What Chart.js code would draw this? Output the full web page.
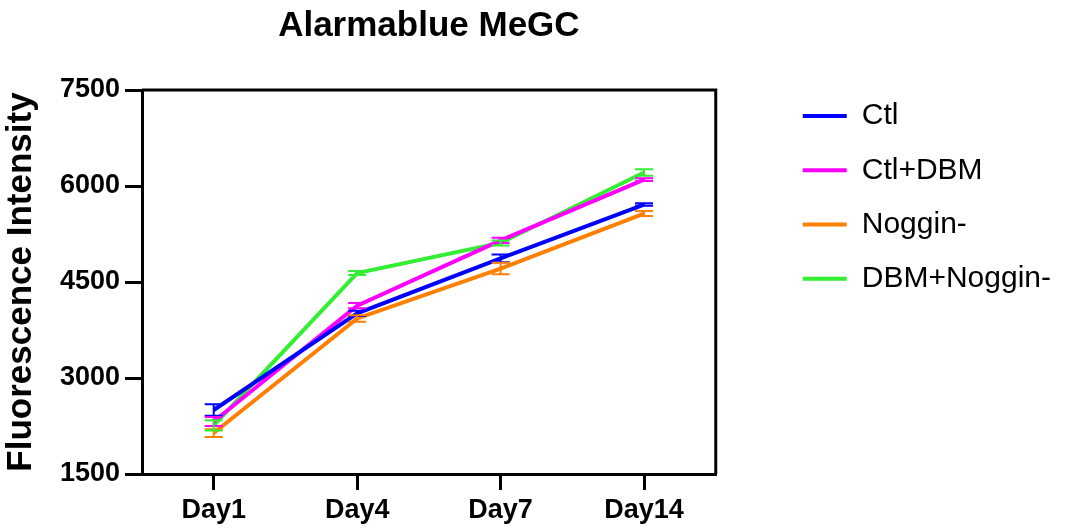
<!DOCTYPE html>
<html>
<head>
<meta charset="utf-8">
<script src="https://cdn.jsdelivr.net/npm/chart.js@4"></script>
<style>
  html, body { margin: 0; padding: 0; background: #fff; }
  #wrap { width: 1071px; height: 529px; }
</style>
</head>
<body>
<div id="wrap"><canvas id="chart1"></canvas></div>
<script>
const days = ['Day1', 'Day4', 'Day7', 'Day14'];
const seriesNames = ['Ctl', 'Ctl+DBM', 'Noggin-', 'DBM+Noggin-'];
const seriesColors = ['#0000ff', '#ff00ff', '#ff8000', '#33ee33'];

// mean values
const ctl = [2500, 4010, 4870, 5710];
const ctlDbm = [2320, 4130, 5150, 6100];
const noggin = [2140, 3930, 4710, 5570];
const dbmNoggin = [2260, 4640, 5110, 6210];

// error bar half heights
const ctlErr = [90, 40, 60, 20];
const ctlDbmErr = [70, 40, 40, 20];
const nogginErr = [60, 50, 90, 40];
const dbmNogginErr = [80, 30, 40, 50];

const yTicks = [1500, 3000, 4500, 6000, 7500];

const allValues = [ctl, ctlDbm, noggin, dbmNoggin];
const allErrors = [ctlErr, ctlDbmErr, nogginErr, dbmNogginErr];

const FONT = 'Arial, "Liberation Sans", Helvetica, sans-serif';

// error bars, drawn from the y scale
const errorBars = {
  id: 'errorBars',
  afterDatasetsDraw(chart) {
    const ctx = chart.ctx;
    const y = chart.scales.y;
    chart.data.datasets.forEach((ds, di) => {
      const meta = chart.getDatasetMeta(di);
      ctx.save();
      ctx.strokeStyle = ds.borderColor;
      ctx.lineWidth = 2;
      meta.data.forEach((pt, i) => {
        const v = ds.data[i], e = ds.errors[i];
        const top = y.getPixelForValue(v + e);
        const bot = y.getPixelForValue(v - e);
        ctx.beginPath();
        ctx.moveTo(pt.x, top); ctx.lineTo(pt.x, bot);
        ctx.moveTo(pt.x - 9, top); ctx.lineTo(pt.x + 9, top);
        ctx.moveTo(pt.x - 9, bot); ctx.lineTo(pt.x + 9, bot);
        ctx.stroke();
      });
      ctx.restore();
    });
  }
};

// top and right edge of the plot frame
const frame = {
  id: 'frame',
  beforeDatasetsDraw(chart) {
    const {ctx, chartArea: a} = chart;
    ctx.save();
    ctx.strokeStyle = '#000';
    ctx.lineWidth = 3;
    ctx.beginPath();
    ctx.moveTo(a.left, a.top);
    ctx.lineTo(a.right, a.top);
    ctx.lineTo(a.right, a.bottom);
    ctx.stroke();
    ctx.restore();
  }
};

new Chart(document.getElementById('chart1'), {
  type: 'line',
  data: {
    labels: days,
    datasets: seriesNames.map((name, i) => ({
      label: name,
      data: allValues[i],
      errors: allErrors[i],
      borderColor: seriesColors[i],
      backgroundColor: seriesColors[i],
      borderWidth: 4,
      pointRadius: 0,
      tension: 0,
      fill: false
    }))
  },
  options: {
    responsive: true,
    maintainAspectRatio: false,
    animation: false,
    layout: { padding: { left: 0, right: 10, top: 0, bottom: 0 } },
    plugins: {
      title: {
        display: true,
        text: 'Alarmablue MeGC',
        fullSize: false,
        color: '#000',
        font: { family: FONT, size: 35, weight: 'bold' },
        padding: { top: 5, bottom: 43 }
      },
      legend: {
        position: 'right',
        align: 'start',
        title: { display: true, text: ' ', font: { size: 10 }, padding: { top: 84, bottom: 0 } },
        labels: {
          color: '#000',
          font: { family: FONT, size: 30, lineHeight: 1.643 },
          boxWidth: 44,
          boxHeight: 4,
          padding: 5,
          generateLabels(chart) {
            // one-line arrays so the row height follows the font line height
            return Chart.defaults.plugins.legend.labels.generateLabels(chart)
              .map(l => Object.assign(l, { lineWidth: 0, text: [l.text] }));
          }
        }
      },
      tooltip: { enabled: false }
    },
    scales: {
      x: {
        type: 'category',
        offset: true,
        border: { color: '#000', width: 3 },
        grid: { display: true, drawOnChartArea: false, offset: false, color: '#000', lineWidth: 3, tickLength: 16 },
        ticks: { color: '#000', font: { family: FONT, size: 27, weight: 'bold' }, padding: 4 },
        afterFit(s) { s.height = 55; }
      },
      y: {
        min: 1500,
        max: 7500,
        afterBuildTicks(s) { s.ticks = yTicks.map(v => ({ value: v })); },
        border: { color: '#000', width: 3 },
        grid: { display: true, drawOnChartArea: false, color: '#000', lineWidth: 3, tickLength: 17 },
        ticks: {
          color: '#000',
          font: { family: FONT, size: 27, weight: 'bold' },
          padding: 5,
          callback: v => String(v)
        },
        title: {
          display: true,
          text: 'Fluorescence Intensity',
          color: '#000',
          font: { family: FONT, size: 35, weight: 'bold' },
          padding: { top: 0, bottom: 0 }
        },
        afterFit(s) { s.width = 142; }
      },
      // hidden spacer between plot and legend
      y2: {
        display: false,
        position: 'right',
        min: 1500,
        max: 7500,
        afterFit(s) { s.width = 82; }
      }
    }
  },
  plugins: [frame, errorBars]
});
</script>
</body>
</html>
